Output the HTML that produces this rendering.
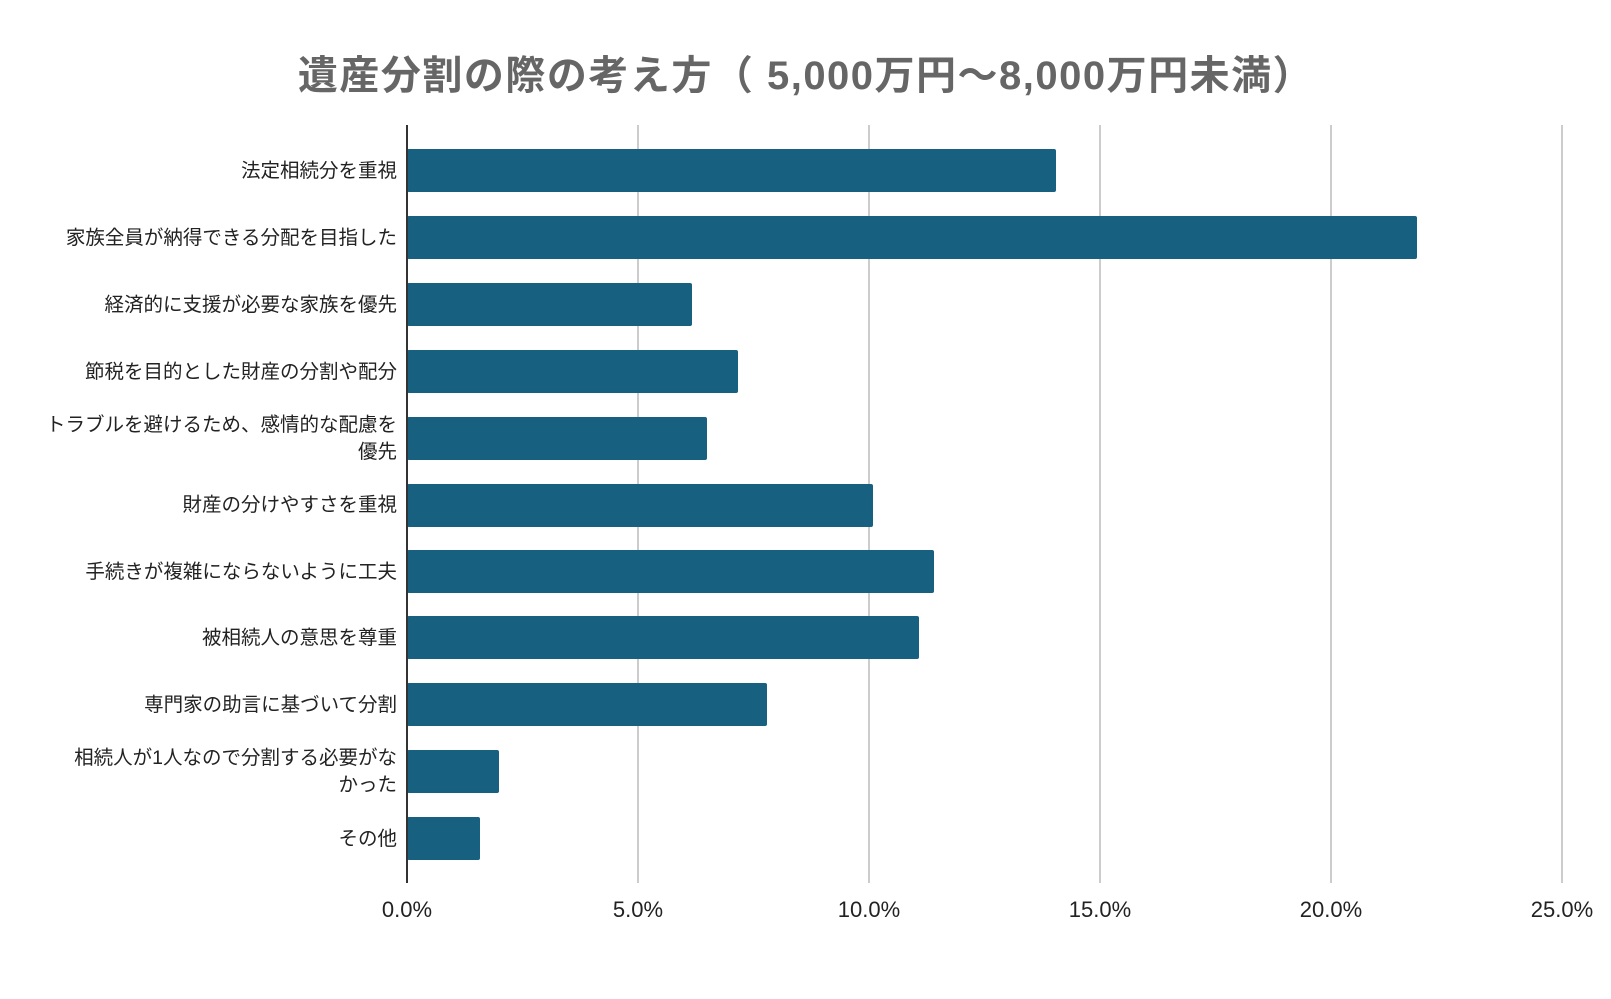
<!DOCTYPE html>
<html><head><meta charset="utf-8"><style>
body{margin:0;background:#fff;}
svg text{font-family:"Liberation Sans","Noto Sans CJK JP",sans-serif;}
</style></head><body>
<svg width="1611" height="994" xmlns="http://www.w3.org/2000/svg">
<text x="806" y="89" text-anchor="middle" font-size="40" font-weight="bold" fill="#666" letter-spacing="1.5">遺産分割の際の考え方（ 5,000万円～8,000万円未満）</text>
<g stroke="#ccc" stroke-width="2">
<line x1="638" y1="125" x2="638" y2="883"/>
<line x1="869" y1="125" x2="869" y2="883"/>
<line x1="1100" y1="125" x2="1100" y2="883"/>
<line x1="1331" y1="125" x2="1331" y2="883"/>
<line x1="1562" y1="125" x2="1562" y2="883"/>
</g>
<g fill="#17607f">
<rect x="407" y="149" width="649" height="43" rx="2"/>
<rect x="407" y="216" width="1010" height="43" rx="2"/>
<rect x="407" y="283" width="285" height="43" rx="2"/>
<rect x="407" y="350" width="331" height="43" rx="2"/>
<rect x="407" y="417" width="300" height="43" rx="2"/>
<rect x="407" y="484" width="466" height="43" rx="2"/>
<rect x="407" y="550" width="527" height="43" rx="2"/>
<rect x="407" y="616" width="512" height="43" rx="2"/>
<rect x="407" y="683" width="360" height="43" rx="2"/>
<rect x="407" y="750" width="92" height="43" rx="2"/>
<rect x="407" y="817" width="73" height="43" rx="2"/>
</g>
<line x1="407" y1="125" x2="407" y2="883" stroke="#333" stroke-width="2"/>
<g font-size="19.5" fill="#222" text-anchor="end">
<text x="397" y="177">法定相続分を重視</text>
<text x="397" y="244">家族全員が納得できる分配を目指した</text>
<text x="397" y="311">経済的に支援が必要な家族を優先</text>
<text x="397" y="378">節税を目的とした財産の分割や配分</text>
<text x="397" y="431">トラブルを避けるため、感情的な配慮を</text>
<text x="397" y="458">優先</text>
<text x="397" y="511">財産の分けやすさを重視</text>
<text x="397" y="578">手続きが複雑にならないように工夫</text>
<text x="397" y="644">被相続人の意思を尊重</text>
<text x="397" y="711">専門家の助言に基づいて分割</text>
<text x="397" y="764">相続人が1人なので分割する必要がな</text>
<text x="397" y="791">かった</text>
<text x="397" y="845">その他</text>
</g>
<g font-size="22" fill="#222" text-anchor="middle">
<text x="407" y="917">0.0%</text>
<text x="638" y="917">5.0%</text>
<text x="869" y="917">10.0%</text>
<text x="1100" y="917">15.0%</text>
<text x="1331" y="917">20.0%</text>
<text x="1562" y="917">25.0%</text>
</g>
</svg>
</body></html>
